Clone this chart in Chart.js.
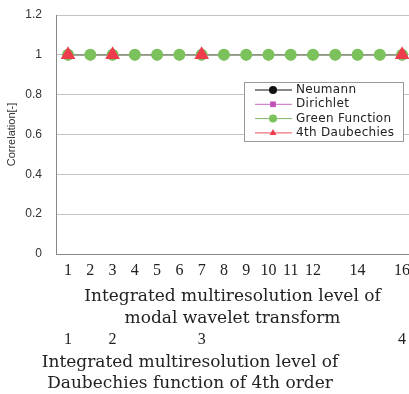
<!DOCTYPE html>
<html>
<head>
<meta charset="utf-8">
<script src="https://cdn.jsdelivr.net/npm/chart.js@4.4.1/dist/chart.umd.min.js"></script>
<style>
  html, body { margin: 0; padding: 0; background: #fff; }
  #wrap { width: 409px; height: 394px; }
</style>
</head>
<body>
<div id="wrap"><canvas id="corrChart" width="409" height="394"></canvas></div>
<script>
// integrated multiresolution levels of the modal wavelet transform
const modalLevels = [1, 2, 3, 4, 5, 6, 7, 8, 9, 10, 11, 12, 13, 14, 15, 16];
const modalTickValues = [1, 2, 3, 4, 5, 6, 7, 8, 9, 10, 11, 12, 14, 16];

// Daubechies (4th order) levels and where they sit on the modal axis
const daubLevels = ['1', '2', '3', '4'];
const daubOnModal = [1, 3, 7, 16];

const neumann = [1, 1, 1, 1, 1, 1, 1, 1, 1, 1, 1, 1, 1, 1, 1, 1];
const dirichlet = [1, 1, 1, 1, 1, 1, 1, 1, 1, 1, 1, 1, 1, 1, 1, 1];
const greenFunction = [1, 1, 1, 1, 1, 1, 1, 1, 1, 1, 1, 1, 1, 1, 1, 1];
const daubechies4 = [1, 1, 1, 1];

const yTicks = [0, 0.2, 0.4, 0.6, 0.8, 1, 1.2];

const SERIF = "'DejaVu Serif', serif";
const TICK_SERIF = "'Liberation Serif', 'Times New Roman', serif";
const SANS = "'Liberation Sans', Arial, sans-serif";
const LEGEND_SANS = "'DejaVu Sans', sans-serif";

function toPoints(xs, ys) {
  return xs.map((x, i) => ({ x: x, y: ys[i] }));
}

// no extra side padding for the end tick labels, the plot runs to the edge
function noSidePadding(scale) {
  scale.paddingLeft = 0;
  scale.paddingRight = 0;
}

// fixed width y axis, and no extra room above/below for its end labels
function fitYAxis(scale) {
  scale.width = 56;
  scale.paddingTop = 0;
  scale.paddingBottom = 0;
}

// legend box drawn inside the plot area
const insetLegend = {
  id: 'insetLegend',
  afterDraw(chart) {
    const ctx = chart.ctx;
    const x0 = 244, y0 = 82, w = 159, h = 59;
    ctx.save();
    ctx.fillStyle = '#fff';
    ctx.fillRect(x0, y0, w, h);
    ctx.strokeStyle = '#999';
    ctx.lineWidth = 1;
    ctx.strokeRect(x0 + 0.5, y0 + 0.5, w, h);
    ctx.font = '12px ' + LEGEND_SANS;
    ctx.letterSpacing = '0.3px';
    ctx.textBaseline = 'middle';
    chart.data.datasets.forEach((ds, row) => {
      const y = y0 + 8 + row * 14.3;
      ctx.strokeStyle = ds.borderColor;
      ctx.lineWidth = 1;
      ctx.beginPath();
      ctx.moveTo(x0 + 11, y);
      ctx.lineTo(x0 + 48, y);
      ctx.stroke();
      ctx.fillStyle = ds.pointBackgroundColor;
      Chart.helpers.drawPoint(ctx, {
        pointStyle: ds.pointStyle,
        radius: 4,
        rotation: 0,
        borderWidth: 0
      }, x0 + 29, y);
      ctx.fillStyle = '#222';
      ctx.fillText(ds.label, x0 + 52, y);
    });
    ctx.restore();
  }
};

// second axis title, under the Daubechies level ticks
const daubTitle = {
  id: 'daubTitle',
  afterDraw(chart) {
    const ctx = chart.ctx;
    const base = chart.scales.x2.bottom;
    ctx.save();
    ctx.font = '17px ' + SERIF;
    ctx.fillStyle = '#222';
    ctx.textAlign = 'center';
    ctx.textBaseline = 'middle';
    ctx.fillText('Integrated multiresolution level of', 190, base + 13);
    ctx.fillText('Daubechies function of 4th order', 190, base + 34);
    ctx.restore();
  }
};

const CTX = document.getElementById('corrChart');

new Chart(CTX, {
  type: 'line',
  data: {
    datasets: [
      {
        label: 'Neumann',
        data: toPoints(modalLevels, neumann),
        borderColor: '#111',
        backgroundColor: '#111',
        pointBackgroundColor: '#111',
        pointStyle: 'circle',
        pointRadius: 5,
        borderWidth: 1,
        order: 4
      },
      {
        label: 'Dirichlet',
        data: toPoints(modalLevels, dirichlet),
        borderColor: '#c76bc2',
        backgroundColor: '#c050b8',
        pointBackgroundColor: '#c050b8',
        pointStyle: 'rect',
        pointRadius: 5,
        borderWidth: 1,
        order: 3
      },
      {
        label: 'Green Function',
        data: toPoints(modalLevels, greenFunction),
        borderColor: '#7fb86a',
        backgroundColor: '#7cc25c',
        pointBackgroundColor: '#7cc25c',
        pointBorderWidth: 0,
        pointStyle: 'circle',
        pointRadius: 6,
        borderWidth: 1,
        order: 2
      },
      {
        label: '4th Daubechies',
        data: toPoints(daubOnModal, daubechies4),
        borderColor: '#e8505c',
        backgroundColor: '#ef3c4c',
        pointBackgroundColor: '#ef3c4c',
        pointBorderWidth: 0,
        pointStyle: 'triangle',
        pointRadius: 8.5,
        borderWidth: 1,
        showLine: false,
        order: 1
      }
    ]
  },
  options: {
    responsive: false,
    animation: false,
    layout: {
      autoPadding: false,
      padding: { left: 0, right: 0, top: 15, bottom: 44 }
    },
    plugins: {
      legend: { display: false },
      tooltip: { enabled: false }
    },
    scales: {
      x: {
        type: 'linear',
        position: 'bottom',
        min: 0.46,
        max: 16.31,
        afterBuildTicks: (scale) => {
          scale.ticks = modalTickValues.map(v => ({ value: v }));
        },
        afterFit: noSidePadding,
        grid: { display: false, drawTicks: false },
        border: { display: true, color: '#888', width: 1 },
        ticks: {
          autoSkip: false,
          maxRotation: 0,
          padding: 9,
          color: '#222',
          font: { family: TICK_SERIF, size: 16, lineHeight: 1 },
          callback: (v) => String(v)
        },
        title: {
          display: true,
          text: ['Integrated multiresolution level of', 'modal wavelet transform'],
          color: '#222',
          font: { family: SERIF, size: 17, lineHeight: '22px' },
          padding: { top: -2, bottom: 0 }
        }
      },
      x2: {
        type: 'linear',
        position: 'bottom',
        min: 0.46,
        max: 16.31,
        afterBuildTicks: (scale) => {
          scale.ticks = daubOnModal.map(v => ({ value: v }));
        },
        afterFit: noSidePadding,
        grid: { display: false, drawTicks: false },
        border: { display: false },
        ticks: {
          autoSkip: false,
          maxRotation: 0,
          padding: 2,
          color: '#222',
          font: { family: TICK_SERIF, size: 16, lineHeight: 1 },
          callback: (v) => daubLevels[daubOnModal.indexOf(v)]
        }
      },
      y: {
        min: 0,
        max: 1.2,
        afterBuildTicks: (scale) => {
          scale.ticks = yTicks.map(v => ({ value: v }));
        },
        afterFit: fitYAxis,
        grid: { color: '#c4c4c4', lineWidth: 1, drawTicks: false },
        border: { display: true, color: '#888', width: 1 },
        ticks: {
          padding: 14,
          color: '#333',
          font: { family: SANS, size: 12 },
          callback: (v) => String(+v.toFixed(1))
        },
        title: {
          display: true,
          text: 'Correlation[-]',
          color: '#333',
          font: { family: SANS, size: 11 },
          padding: { top: 5, bottom: 0 }
        }
      }
    }
  },
  plugins: [insetLegend, daubTitle]
});
</script>
</body>
</html>
